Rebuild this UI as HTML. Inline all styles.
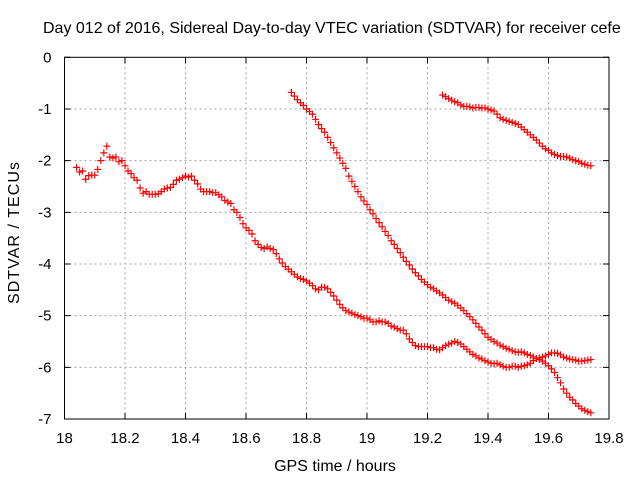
<!DOCTYPE html>
<html><head><meta charset="utf-8"><style>
html,body{margin:0;padding:0;background:#fff;width:640px;height:480px;overflow:hidden}
svg text{font-family:"Liberation Sans",sans-serif;font-size:15px;fill:#000}
</style></head><body>
<svg id="chart" width="640" height="480" viewBox="0 0 640 480" xmlns="http://www.w3.org/2000/svg">
<rect width="640" height="480" fill="#fff"/>
<text x="43" y="33" style="font-size:16px">Day 012 of 2016, Sidereal Day-to-day VTEC variation (SDTVAR) for receiver cefe</text>
<g id="grid"></g>
<g id="axes"></g>
<g id="series"></g>
<text x="335" y="471" text-anchor="middle" style="font-size:16px">GPS time / hours</text>
<text transform="translate(19,233) rotate(-90)" text-anchor="middle" style="font-size:16px" textLength="142" lengthAdjust="spacing">SDTVAR / TECUs</text>
</svg>
<script>
const xTicks=[18,18.2,18.4,18.6,18.8,19,19.2,19.4,19.6,19.8];
const xTickLabels=["18","18.2","18.4","18.6","18.8","19","19.2","19.4","19.6","19.8"];
const yTicks=[0,-1,-2,-3,-4,-5,-6,-7];
const yTickLabels=["0","-1","-2","-3","-4","-5","-6","-7"];
const seriesAStart=18.04, seriesBStart=18.75, seriesCStart=19.25, timeStep=0.01;
const seriesA=[-2.13,-2.22,-2.20,-2.36,-2.29,-2.28,
-2.28,-2.17,-2.0,-1.85,-1.72,-1.93,-1.95,-1.93,-2.02,-2.0,
-2.1,-2.2,-2.25,-2.33,-2.38,-2.53,-2.63,-2.6,-2.65,-2.65,
-2.65,-2.64,-2.6,-2.55,-2.53,-2.52,-2.46,-2.38,-2.36,-2.33,
-2.3,-2.32,-2.3,-2.38,-2.45,-2.55,-2.6,-2.6,-2.6,-2.62,
-2.62,-2.66,-2.7,-2.77,-2.8,-2.83,-2.95,-3.0,-3.1,-3.22,
-3.3,-3.35,-3.42,-3.55,-3.62,-3.68,-3.7,-3.67,-3.7,-3.72,
-3.8,-3.9,-3.98,-4.05,-4.1,-4.15,-4.2,-4.25,-4.28,-4.3,
-4.33,-4.37,-4.42,-4.48,-4.5,-4.45,-4.45,-4.48,-4.55,-4.62,
-4.7,-4.78,-4.85,-4.9,-4.93,-4.95,-4.98,-5.0,-5.02,-5.05,
-5.05,-5.08,-5.12,-5.12,-5.1,-5.12,-5.12,-5.15,-5.2,-5.22,
-5.25,-5.28,-5.28,-5.35,-5.45,-5.52,-5.58,-5.6,-5.6,-5.6,
-5.6,-5.62,-5.62,-5.65,-5.66,-5.62,-5.58,-5.55,-5.53,-5.5,
-5.52,-5.55,-5.6,-5.65,-5.7,-5.75,-5.78,-5.82,-5.84,-5.87,
-5.9,-5.92,-5.93,-5.92,-5.95,-5.98,-6.0,-6.0,-5.98,-5.98,
-6.0,-5.98,-5.97,-5.95,-5.92,-5.87,-5.83,-5.82,-5.8,-5.78,
-5.75,-5.72,-5.72,-5.73,-5.76,-5.8,-5.82,-5.84,-5.85,-5.86,
-5.88,-5.88,-5.87,-5.86,-5.85];
const seriesB=[-0.68,-0.75,-0.82,-0.88,-0.93,
-1.0,-1.05,-1.1,-1.2,-1.3,-1.38,-1.45,-1.55,-1.65,-1.75,
-1.85,-1.95,-2.05,-2.15,-2.3,-2.4,-2.5,-2.6,-2.7,-2.78,
-2.85,-2.95,-3.03,-3.12,-3.2,-3.28,-3.37,-3.45,-3.55,-3.62,
-3.7,-3.78,-3.87,-3.95,-4.02,-4.1,-4.17,-4.23,-4.3,-4.35,
-4.4,-4.45,-4.48,-4.52,-4.56,-4.6,-4.65,-4.7,-4.73,-4.76,
-4.8,-4.85,-4.9,-4.96,-5.02,-5.08,-5.15,-5.22,-5.28,-5.35,
-5.42,-5.46,-5.5,-5.53,-5.57,-5.6,-5.63,-5.65,-5.68,-5.7,
-5.71,-5.7,-5.72,-5.75,-5.77,-5.8,-5.83,-5.85,-5.88,-5.92,
-5.97,-6.03,-6.1,-6.2,-6.3,-6.42,-6.5,-6.58,-6.63,-6.7,
-6.75,-6.8,-6.83,-6.86,-6.88];
const seriesC=[-0.73,-0.76,-0.8,-0.83,-0.86,
-0.88,-0.92,-0.95,-0.95,-0.96,-0.98,-0.97,-0.97,-0.98,-0.98,
-1.0,-1.02,-1.04,-1.1,-1.17,-1.2,-1.22,-1.24,-1.26,-1.28,
-1.3,-1.35,-1.4,-1.45,-1.5,-1.55,-1.6,-1.66,-1.72,-1.77,
-1.8,-1.85,-1.88,-1.9,-1.92,-1.92,-1.93,-1.95,-1.98,-2.0,
-2.02,-2.05,-2.07,-2.09,-2.1];

const L=64.5,R=609,T=57.3,B=419;
const xMin=18,xMax=19.8,yMin=-7,yMax=0;
function xs(v){return L+(v-xMin)/(xMax-xMin)*(R-L);}
function ys(v){return T+(yMax-v)/(yMax-yMin)*(B-T);}
const NS="http://www.w3.org/2000/svg";
function mk(tag,attrs,parent){const e=document.createElementNS(NS,tag);for(const k in attrs)e.setAttribute(k,attrs[k]);parent.appendChild(e);return e;}
const grid=document.getElementById('grid'),axes=document.getElementById('axes'),ser=document.getElementById('series');
xTicks.forEach((t,i)=>{
  const x=xs(t);
  if(i>0&&i<xTicks.length-1){
    const g=mk('line',{x1:x,x2:x,y1:T,y2:B,stroke:'#a0a0a0','stroke-dasharray':'2,3','stroke-width':1},grid);
    
    
  }
  const tk=mk('path',{d:`M${x},${B}v-6M${x},${T}v6`,stroke:'#000','stroke-width':1},axes);
  
  
  const lb=mk('text',{x:x,y:B+24,'text-anchor':'middle'},axes);
  lb.textContent=xTickLabels[i];
  
  
});
yTicks.forEach((t,i)=>{
  const y=ys(t);
  if(i>0&&i<yTicks.length-1){
    const g=mk('line',{x1:L,x2:R,y1:y,y2:y,stroke:'#a0a0a0','stroke-dasharray':'2,3','stroke-width':1},grid);
    
    
  }
  const tk=mk('path',{d:`M${L},${y}h6M${R},${y}h-6`,stroke:'#000','stroke-width':1},axes);
  
  
  const lb=mk('text',{x:L-13,y:y+5,'text-anchor':'end'},axes);
  lb.textContent=yTickLabels[i];
  
  
});
const frame=mk('rect',{x:L,y:T,width:R-L,height:B-T,fill:'none',stroke:'#000','stroke-width':1},axes);


function drawSeries(vals,start,name){
  let d='';
  vals.forEach((v,i)=>{const x=xs(start+i*timeStep),y=ys(v);d+=`M${x-3.5},${y}h7M${x},${y-3.5}v7`;});
  const p=mk('path',{d:d,stroke:'#ff0000','stroke-width':1.2,fill:'none'},ser);
  
  
}
drawSeries(seriesA,seriesAStart,'series-a-points');
drawSeries(seriesB,seriesBStart,'series-b-points');
drawSeries(seriesC,seriesCStart,'series-c-points');
</script>
</body></html>
